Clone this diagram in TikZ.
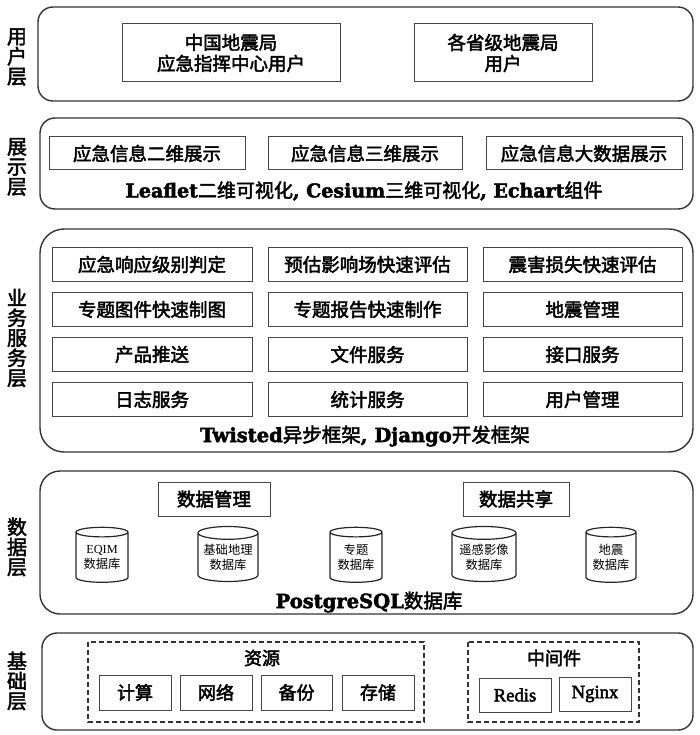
\documentclass[tikz,border=0pt]{standalone}
\usepackage{fontspec}
\setmainfont{Noto Sans CJK SC}
\newfontfamily\latf{Liberation Serif}
\newfontfamily\latw{DejaVu Serif}
\newcommand\heavytext{\special{pdf:literal direct 2 Tr 0.45 w}}
\newcommand\lighttext{\special{pdf:literal direct 0 Tr}}
\usetikzlibrary{shapes.geometric}
\begin{document}
\begin{tikzpicture}[x=1pt,y=-1pt,
  layer/.style={draw=black!80, line width=1.4pt, rounded corners=#1},
  layer/.default=15pt,
  laylabel/.style={align=center, font=\fontsize{20}{20}\selectfont\heavytext, inner sep=0pt},
  box/.style={draw=black!72, line width=1pt, inner sep=0pt, align=center, font=\fontsize{18.5}{21}\selectfont\heavytext},
  dbox/.style={draw=black!80, line width=1.2pt, dashed, dash pattern=on 5pt off 3pt},
  note/.style={inner sep=0pt, font=\fontsize{18}{20}\selectfont\heavytext},
  db/.style={cylinder, shape border rotate=90, draw=black!85, line width=1.2pt, aspect=0.26, minimum height=55pt, inner sep=0pt, align=center, font=\fontsize{12.3}{15}\selectfont\lighttext},
]
\useasboundingbox (0,0) rectangle (700,735);

% ---------- 用户层
\draw[layer] (38,7) rectangle (693,101);
\node[laylabel] (l1) at (17,57) {用\\户\\层};
\node[box, minimum width=218pt, minimum height=58pt] (u1) at (231,53) {中国地震局\\应急指挥中心用户};
\node[box, minimum width=178pt, minimum height=58pt] (u2) at (503,53) {各省级地震局\\用户};

% ---------- 展示层
\draw[layer] (40,118) rectangle (693,209);
\node[laylabel] (l2) at (17,167) {展\\示\\层};
\node[box, minimum width=196pt, minimum height=33pt] (d1) at (147,153.5) {应急信息二维展示};
\node[box, minimum width=194pt, minimum height=33pt] (d2) at (365,153.5) {应急信息三维展示};
\node[box, minimum width=196pt, minimum height=33pt] (d3) at (584,153.5) {应急信息大数据展示};
\node[note, font=\fontsize{19}{21}\selectfont\heavytext] (d4) at (364,191) {{\latw\bfseries Leaflet}二维可视化{\latw\bfseries, Cesium}三维可视化{\latw\bfseries, Echart}组件};

% ---------- 业务服务层
\draw[layer=24pt] (40,229) rectangle (693,452);
\node[laylabel] (l3) at (17,338) {业\\务\\服\\务\\层};
\node[box, minimum width=200pt, minimum height=34pt] (s11) at (152,264.5) {应急响应级别判定};
\node[box, minimum width=199pt, minimum height=34pt] (s12) at (367.5,264.5) {预估影响场快速评估};
\node[box, minimum width=199pt, minimum height=34pt] (s13) at (582.5,264.5) {震害损失快速评估};
\node[box, minimum width=200pt, minimum height=34pt] (s21) at (152,309.5) {专题图件快速制图};
\node[box, minimum width=199pt, minimum height=34pt] (s22) at (367.5,309.5) {专题报告快速制作};
\node[box, minimum width=199pt, minimum height=34pt] (s23) at (582.5,309.5) {地震管理};
\node[box, minimum width=200pt, minimum height=34pt] (s31) at (152,354.5) {产品推送};
\node[box, minimum width=199pt, minimum height=34pt] (s32) at (367.5,354.5) {文件服务};
\node[box, minimum width=199pt, minimum height=34pt] (s33) at (582.5,354.5) {接口服务};
\node[box, minimum width=200pt, minimum height=34pt] (s41) at (152,399.5) {日志服务};
\node[box, minimum width=199pt, minimum height=34pt] (s42) at (367.5,399.5) {统计服务};
\node[box, minimum width=199pt, minimum height=34pt] (s43) at (582.5,399.5) {用户管理};
\node[note, font=\fontsize{19.5}{21}\selectfont\heavytext] (s5) at (365,436) {{\latw\bfseries Twisted}异步框架{\latw\bfseries, Django}开发框架};

% ---------- 数据层
\draw[layer=20pt] (40,471) rectangle (693,614);
\node[laylabel] (l4) at (17,547) {数\\据\\层};
\node[box, minimum width=112pt, minimum height=34pt] (m1) at (214,499) {数据管理};
\node[box, minimum width=106pt, minimum height=34pt] (m2) at (516,499) {数据共享};
\node[db, minimum width=52pt] (c1) at (102,557.5) {{\latf EQIM}\\数据库};
\node[db, minimum width=60pt] (c2) at (228,557.5) {基础地理\\数据库};
\node[db, minimum width=52pt] (c3) at (356,557.5) {专题\\数据库};
\node[db, minimum width=64pt] (c4) at (484,557.5) {遥感影像\\数据库};
\node[db, minimum width=50pt] (c5) at (611,557.5) {地震\\数据库};
\node[note, font=\fontsize{19.5}{21}\selectfont\heavytext] (pg) at (369,602) {{\latw\bfseries PostgreSQL}数据库};

% ---------- 基础层
\draw[layer] (42,633) rectangle (693,730);
\node[laylabel] (l5) at (17,681) {基\\础\\层};
\draw[dbox] (88,642) rectangle (424,722);
\node[note] (r0) at (262,658) {资源};
\node[box, minimum width=72pt, minimum height=35pt, font=\fontsize{18}{21}\selectfont\heavytext] (r1) at (135,692.5) {计算};
\node[box, minimum width=72pt, minimum height=35pt, font=\fontsize{18}{21}\selectfont\heavytext] (r2) at (216,692.5) {网络};
\node[box, minimum width=71pt, minimum height=35pt, font=\fontsize{18}{21}\selectfont\heavytext] (r3) at (296.5,692.5) {备份};
\node[box, minimum width=72pt, minimum height=35pt, font=\fontsize{18}{21}\selectfont\heavytext] (r4) at (378,692.5) {存储};
\draw[dbox] (468,642) rectangle (639,722);
\node[note] (w0) at (554,658) {中间件};
\node[box, minimum width=72pt, minimum height=34pt, font=\latf\fontsize{18.7}{21}\selectfont\heavytext] (w1) at (515,695) {Redis};
\node[box, minimum width=72pt, minimum height=34pt, font=\latf\fontsize{18.7}{21}\selectfont\heavytext] (w2) at (595,694) {Nginx};
\end{tikzpicture}
\end{document}
